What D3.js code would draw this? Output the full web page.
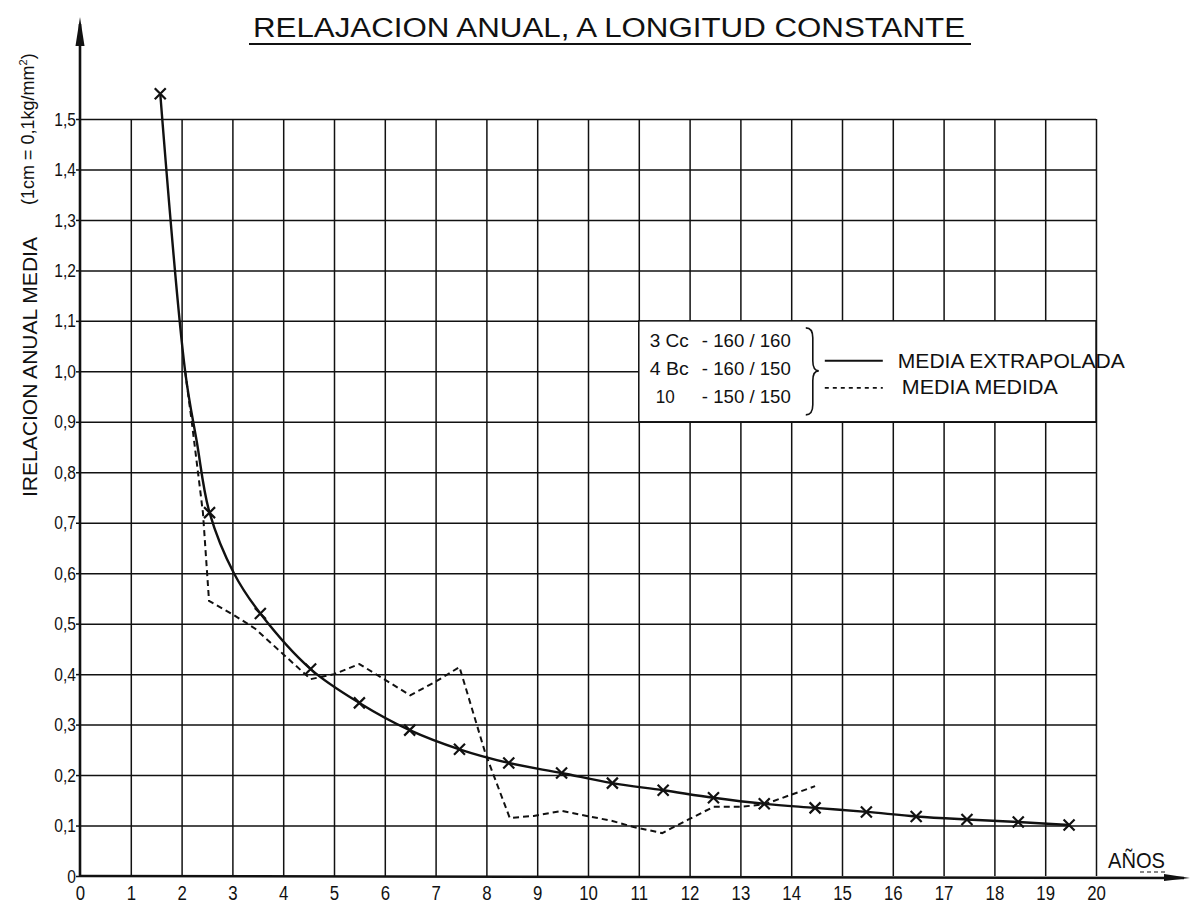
<!DOCTYPE html>
<html>
<head>
<meta charset="utf-8">
<script src="https://cdn.jsdelivr.net/npm/d3@7"></script>
<style>
	body { margin: 0; background: #fff; }
	text { font-family: "Liberation Sans", Arial, sans-serif; fill: #111; }
</style>
</head>
<body>
<script>
// tick values and labels
var xTickValues = [0, 1, 2, 3, 4, 5, 6, 7, 8, 9, 10, 11, 12, 13, 14, 15, 16, 17, 18, 19, 20];
var yTickValues = [0, 0.1, 0.2, 0.3, 0.4, 0.5, 0.6, 0.7, 0.8, 0.9, 1.0, 1.1, 1.2, 1.3, 1.4, 1.5];
var yTickLabels = ["0", "0,1", "0,2", "0,3", "0,4", "0,5", "0,6", "0,7", "0,8", "0,9", "1,0", "1,1", "1,2", "1,3", "1,4", "1,5"];

// media extrapolada: marked points (x) at mid year
var markerYears  = [1.58, 2.55, 3.55, 4.54, 5.5, 6.49, 7.47, 8.44, 9.48, 10.48, 11.48, 12.47, 13.47, 14.47, 15.48, 16.46, 17.46, 18.47, 19.47];
var markerValues = [1.55, 0.72, 0.52, 0.41, 0.343, 0.289, 0.251, 0.224, 0.204, 0.184, 0.170, 0.155, 0.143, 0.135, 0.127, 0.118, 0.112, 0.107, 0.101];
// extra points read along the curve where it bends
var bendYears  = [2.07, 2.3, 3.03];
var bendValues = [1.0, 0.86, 0.6];

// media medida (dashed)
var measuredYears  = [2.07, 2.2, 2.42, 2.54, 3.03, 3.45, 4.54, 5.0, 5.5, 6.5, 7.0, 7.47, 7.98, 8.46, 8.93, 9.48, 10.48, 10.9, 11.46, 11.96, 12.47, 13.0, 13.47, 14.47];
var measuredValues = [1.0, 0.9, 0.72, 0.545, 0.517, 0.49, 0.39, 0.40, 0.42, 0.358, 0.385, 0.414, 0.243, 0.115, 0.119, 0.129, 0.109, 0.097, 0.085, 0.111, 0.137, 0.137, 0.142, 0.178];

// legend
var legendRows = [["3 Cc", "- 160 / 160"], ["4 Bc", "- 160 / 150"], ["10", "- 150 / 150"]];

var width = 1191,
	height = 903,
	svg, x, y;

function init() {
	svg = d3.select("body")
		.append("svg")
		.attr("width", width)
		.attr("height", height);

	x = d3.scaleLinear().domain([0, 20]).range([80, 1096]);
	y = d3.scaleLinear().domain([0, 1.5]).range([876, 119]);

	drawGrid();
	drawLegend();
	drawLines();
	drawAxes();
	drawTitles();
}

function drawGrid() {
	// horizontal grid lines
	var gy = svg.append("g")
		.attr("transform", "translate(" + x(0) + ",0)")
		.call(d3.axisLeft(y)
			.tickValues(yTickValues.slice(1))
			.tickSize(-(x(20) - x(0)))
			.tickFormat(""));
	gy.select(".domain").remove();
	gy.selectAll("line").attr("stroke", "#111").attr("stroke-width", 1.5);

	// vertical grid lines
	var gx = svg.append("g")
		.attr("transform", "translate(0," + y(0) + ")")
		.call(d3.axisBottom(x)
			.tickValues(xTickValues.slice(1))
			.tickSize(-(y(0) - y(1.5)))
			.tickFormat(""));
	gx.select(".domain").remove();
	gx.selectAll("line").attr("stroke", "#111").attr("stroke-width", 1.5);
}

function drawLegend() {
	var bx = x(11), by = y(1.1);

	svg.append("rect")
		.attr("x", bx)
		.attr("y", by)
		.attr("width", x(20) - x(11))
		.attr("height", y(0.9) - y(1.1))
		.attr("fill", "#fff")
		.attr("stroke", "#111")
		.attr("stroke-width", 1.5);

	var g = svg.append("g").attr("transform", "translate(" + bx + "," + by + ")");

	legendRows.forEach(function(r, i) {
		g.append("text")
			.attr("x", i == 2 ? 17 : 11)
			.attr("y", 26 + i * 28)
			.attr("font-size", 19)
			.attr("textLength", i == 2 ? 19 : 39)
			.attr("lengthAdjust", "spacingAndGlyphs")
			.text(r[0]);
		g.append("text")
			.attr("x", 63)
			.attr("y", 26 + i * 28)
			.attr("font-size", 19)
			.attr("textLength", 89)
			.attr("lengthAdjust", "spacingAndGlyphs")
			.text(r[1]);
	});

	// brace
	g.append("path")
		.attr("d", "M167,7 Q174,7 174,17 L174,40 Q174,50 180,50 Q174,50 174,60 L174,84 Q174,94 167,94")
		.attr("fill", "none")
		.attr("stroke", "#111")
		.attr("stroke-width", 1.6);

	g.append("line")
		.attr("x1", 186).attr("x2", 244)
		.attr("y1", 40).attr("y2", 40)
		.attr("stroke", "#111")
		.attr("stroke-width", 2);
	g.append("line")
		.attr("x1", 186).attr("x2", 244)
		.attr("y1", 67).attr("y2", 67)
		.attr("stroke", "#111")
		.attr("stroke-width", 1.6)
		.attr("stroke-dasharray", "4,4");

	g.append("text")
		.attr("x", 259)
		.attr("y", 47)
		.attr("font-size", 21)
		.attr("textLength", 227)
		.attr("lengthAdjust", "spacingAndGlyphs")
		.text("MEDIA EXTRAPOLADA");
	g.append("text")
		.attr("x", 263)
		.attr("y", 73)
		.attr("font-size", 21)
		.attr("textLength", 156)
		.attr("lengthAdjust", "spacingAndGlyphs")
		.text("MEDIA MEDIDA");
}

function drawLines() {
	var extrap = markerYears.map(function(d, i) { return [d, markerValues[i]]; })
		.concat(bendYears.map(function(d, i) { return [d, bendValues[i]]; }))
		.sort(function(a, b) { return a[0] - b[0]; });

	var measured = measuredYears.map(function(d, i) { return [d, measuredValues[i]]; });

	var line = d3.line()
		.x(function(d) { return x(d[0]); })
		.y(function(d) { return y(d[1]); });

	svg.append("path")
		.datum(measured)
		.attr("d", line.curve(d3.curveLinear))
		.attr("fill", "none")
		.attr("stroke", "#111")
		.attr("stroke-width", 2)
		.attr("stroke-dasharray", "6,4");

	svg.append("path")
		.datum(extrap)
		.attr("d", line.curve(d3.curveCatmullRom.alpha(0.5)))
		.attr("fill", "none")
		.attr("stroke", "#111")
		.attr("stroke-width", 2.4);

	// x markers
	var s = 5.5;
	svg.append("g")
		.selectAll("path")
		.data(markerYears)
		.enter().append("path")
		.attr("d", function(d, i) {
			var px = x(d), py = y(markerValues[i]);
			return "M" + (px - s) + "," + (py - s) + "L" + (px + s) + "," + (py + s) +
				"M" + (px + s) + "," + (py - s) + "L" + (px - s) + "," + (py + s);
		})
		.attr("stroke", "#111")
		.attr("stroke-width", 2.2);
}

function drawAxes() {
	// y labels with small ticks
	var ay = svg.append("g")
		.attr("transform", "translate(" + x(0) + ",0)")
		.call(d3.axisLeft(y)
			.tickValues(yTickValues)
			.tickSize(4)
			.tickPadding(1)
			.tickFormat(function(d, i) { return yTickLabels[i]; }));
	ay.select(".domain").remove();
	ay.selectAll("line").attr("stroke", "#111").attr("stroke-width", 1.5);
	ay.selectAll("text")
		.attr("font-size", 19)
		.attr("fill", "#111")
		.attr("transform", "scale(0.82,1)")
		.style("font-family", "'Liberation Sans', Arial, sans-serif");

	var ax = svg.append("g")
		.attr("transform", "translate(0," + y(0) + ")")
		.call(d3.axisBottom(x)
			.tickValues(xTickValues)
			.tickSize(0)
			.tickPadding(9));
	ax.select(".domain").remove();
	ax.selectAll("text")
		.attr("font-size", 21)
		.attr("fill", "#111")
		.attr("transform", "scale(0.8,1)")
		.style("font-family", "'Liberation Sans', Arial, sans-serif");

	// axis lines with arrows
	svg.append("line")
		.attr("x1", x(0)).attr("x2", x(0))
		.attr("y1", y(0)).attr("y2", 24)
		.attr("stroke", "#111").attr("stroke-width", 2.6);
	svg.append("path")
		.attr("d", "M" + (x(0) - 4.5) + ",46L" + x(0) + ",17L" + (x(0) + 4.5) + ",46Z")
		.attr("fill", "#111");

	svg.append("line")
		.attr("x1", x(0)).attr("x2", 1184)
		.attr("y1", y(0)).attr("y2", y(0) + 2)
		.attr("stroke", "#111").attr("stroke-width", 2.6);
	svg.append("path")
		.attr("d", "M1164," + (y(0) - 2) + "L1190," + (y(0) + 2) + "L1164," + (y(0) + 5) + "Z")
		.attr("fill", "#111");

	svg.append("text")
		.attr("x", 1108)
		.attr("y", 868)
		.attr("font-size", 22)
		.attr("textLength", 57)
		.attr("lengthAdjust", "spacingAndGlyphs")
		.text("AÑOS");
	svg.append("line")
		.attr("x1", 1140).attr("x2", 1166)
		.attr("y1", 872).attr("y2", 872)
		.attr("stroke", "#111")
		.attr("stroke-width", 1.2)
		.attr("stroke-dasharray", "4,3");
}

function drawTitles() {
	svg.append("text")
		.attr("x", 253)
		.attr("y", 37)
		.attr("font-size", 27)
		.attr("textLength", 712)
		.attr("lengthAdjust", "spacingAndGlyphs")
		.text("RELAJACION ANUAL, A LONGITUD CONSTANTE");
	svg.append("line")
		.attr("x1", 249).attr("x2", 971)
		.attr("y1", 44).attr("y2", 44)
		.attr("stroke", "#111")
		.attr("stroke-width", 2);

	// rotated y label
	svg.append("text")
		.attr("transform", "translate(37,497) rotate(-90)")
		.attr("font-size", 21)
		.attr("textLength", 260)
		.attr("lengthAdjust", "spacingAndGlyphs")
		.text("IRELACION ANUAL MEDIA");

	var unit = svg.append("text")
		.attr("transform", "translate(34,205) rotate(-90)")
		.attr("font-size", 18);
	unit.append("tspan").text("(1cm = 0,1kg/mm");
	unit.append("tspan").attr("dy", -7).attr("font-size", 11).text("2");
	unit.append("tspan").attr("dy", 7).text(")");
}

window.onload = init();
</script>
</body>
</html>
